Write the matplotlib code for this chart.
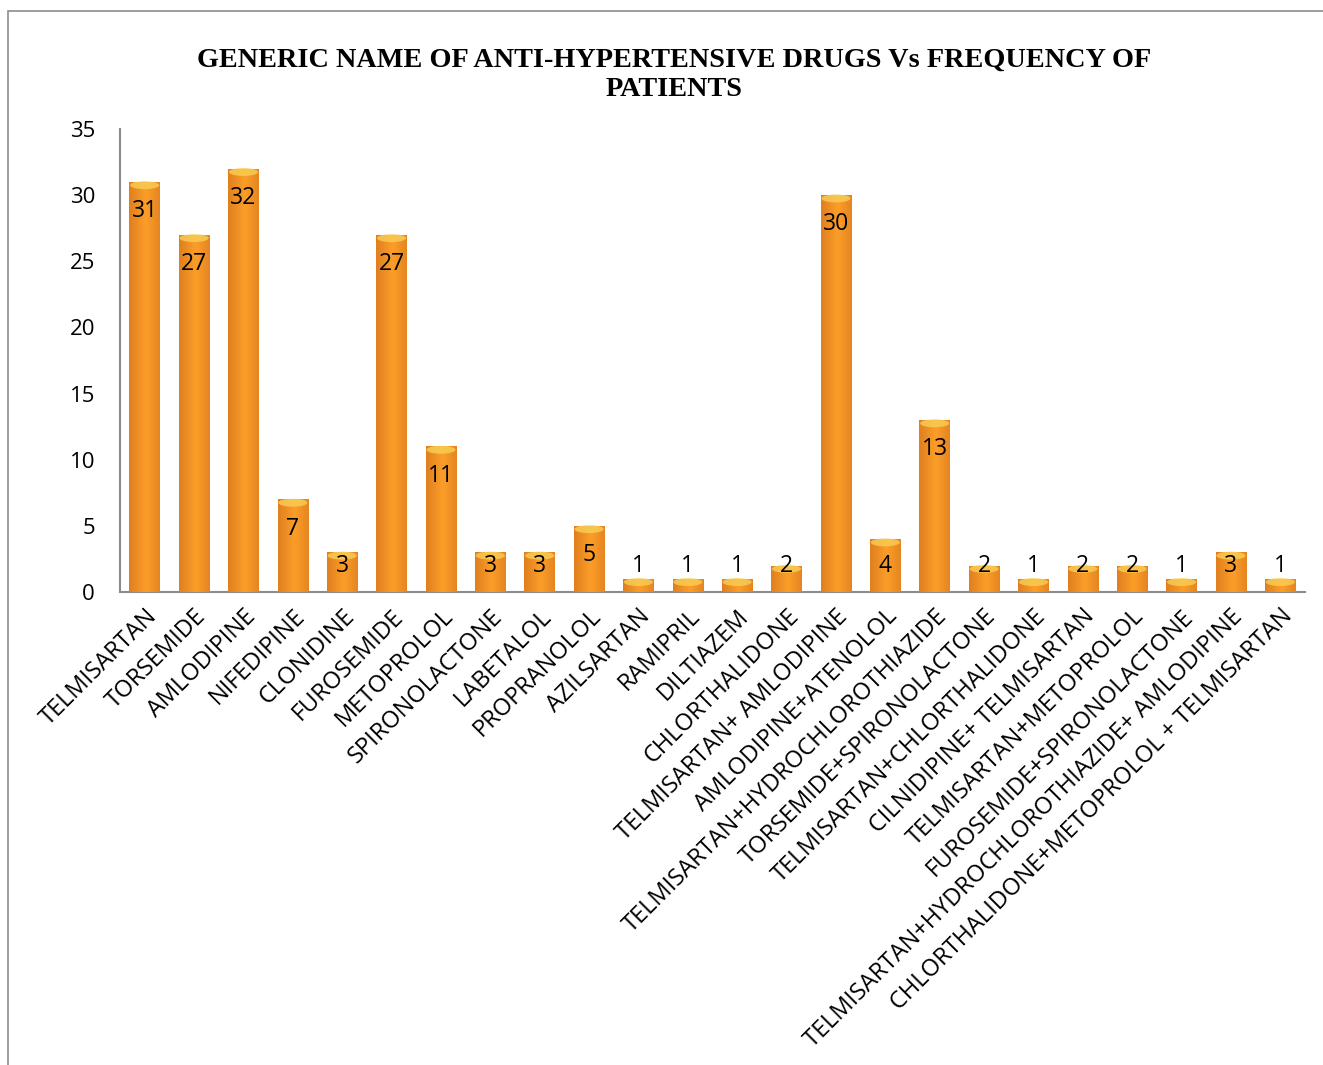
import matplotlib.pyplot as plt
import numpy as np
from matplotlib.patches import Rectangle, Ellipse

drugs = ["TELMISARTAN", "TORSEMIDE", "AMLODIPINE", "NIFEDIPINE", "CLONIDINE",
         "FUROSEMIDE", "METOPROLOL", "SPIRONOLACTONE", "LABETALOL", "PROPRANOLOL",
         "AZILSARTAN", "RAMIPRIL", "DILTIAZEM", "CHLORTHALIDONE",
         "TELMISARTAN+ AMLODIPINE", "AMLODIPINE+ATENOLOL",
         "TELMISARTAN+HYDROCHLOROTHIAZIDE", "TORSEMIDE+SPIRONOLACTONE",
         "TELMISARTAN+CHLORTHALIDONE", "CILNIDIPINE+ TELMISARTAN",
         "TELMISARTAN+METOPROLOL", "FUROSEMIDE+SPIRONOLACTONE",
         "TELMISARTAN+HYDROCHLOROTHIAZIDE+ AMLODIPINE",
         "CHLORTHALIDONE+METOPROLOL + TELMISARTAN"]
patients = [31, 27, 32, 7, 3, 27, 11, 3, 3, 5, 1, 1, 1, 2, 30, 4, 13, 2, 1, 2, 2, 1, 3, 1]
yticks = [0, 5, 10, 15, 20, 25, 30, 35]

plt.rcParams['font.family'] = ['Open Sans', 'DejaVu Sans']

fig = plt.figure(figsize=(13.23, 10.65), dpi=100)
# cadre gris autour du graphique
fig.patches.append(Rectangle((8 / 1323, -0.01), 1.1, 1 - 11 / 1065 + 0.01,
                             transform=fig.transFigure, fill=False,
                             edgecolor='#8c8c8c', linewidth=1.2))

ax = fig.add_axes([120 / 1323, 1 - 592 / 1065, (1305 - 120) / 1323, (592 - 129) / 1065])
x = np.arange(len(drugs))
bars = ax.bar(x, patients, width=0.62, color='#F28C1F', zorder=2)

# dégradé horizontal pour imiter le cylindre
grad = np.linspace(0, 1, 64)
shade = 1 - 0.55 * np.abs(grad - 0.55) * 2
colors = np.zeros((1, 64, 3))
dark = np.array([0.80, 0.42, 0.10])
light = np.array([0.99, 0.62, 0.16])
for i, s in enumerate(shade):
    colors[0, i] = dark + (light - dark) * s
for b in bars:
    x0, y0 = b.get_x(), b.get_y()
    w, h = b.get_width(), b.get_height()
    im = ax.imshow(colors, extent=(x0, x0 + w, y0, y0 + h), aspect='auto',
                   zorder=3, interpolation='bicubic')
    im.set_clip_path(b)
    cap = Ellipse((x0 + w / 2, y0 + h - 0.25), w * 0.95, 0.6,
                  facecolor='#F8CF55', edgecolor='none', alpha=0.8, zorder=4)
    ax.add_patch(cap)

for xi, v in zip(x, patients):
    ax.text(xi, max(v - 2.2, 1.95), str(v), ha='center', va='center',
            fontsize=16.5, color='black', zorder=5)

ax.set_xlim(-0.5, len(drugs) - 0.5)
ax.set_ylim(0, 35)
ax.set_yticks(yticks)
ax.set_yticklabels([str(t) for t in yticks], fontsize=16)
ax.set_xticks(x)
ax.set_xticklabels(drugs, rotation=45, ha='right', rotation_mode='anchor', fontsize=17)
ax.tick_params(length=0)
ax.tick_params(axis='x', pad=9)
ax.tick_params(axis='y', pad=18)
for side in ['top', 'right']:
    ax.spines[side].set_visible(False)
ax.spines['left'].set_color('#8c8c8c')
ax.spines['bottom'].set_color('#8c8c8c')
ax.spines['left'].set_linewidth(1.5)
ax.spines['bottom'].set_linewidth(1.5)

fig.text(674 / 1323, 1 - 75 / 1065,
         "GENERIC NAME OF ANTI-HYPERTENSIVE DRUGS Vs FREQUENCY OF\nPATIENTS",
         ha='center', va='center', fontsize=20.3, fontweight='bold',
         family='Liberation Serif', linespacing=1.25)

fig.savefig('out.png', dpi=100)
